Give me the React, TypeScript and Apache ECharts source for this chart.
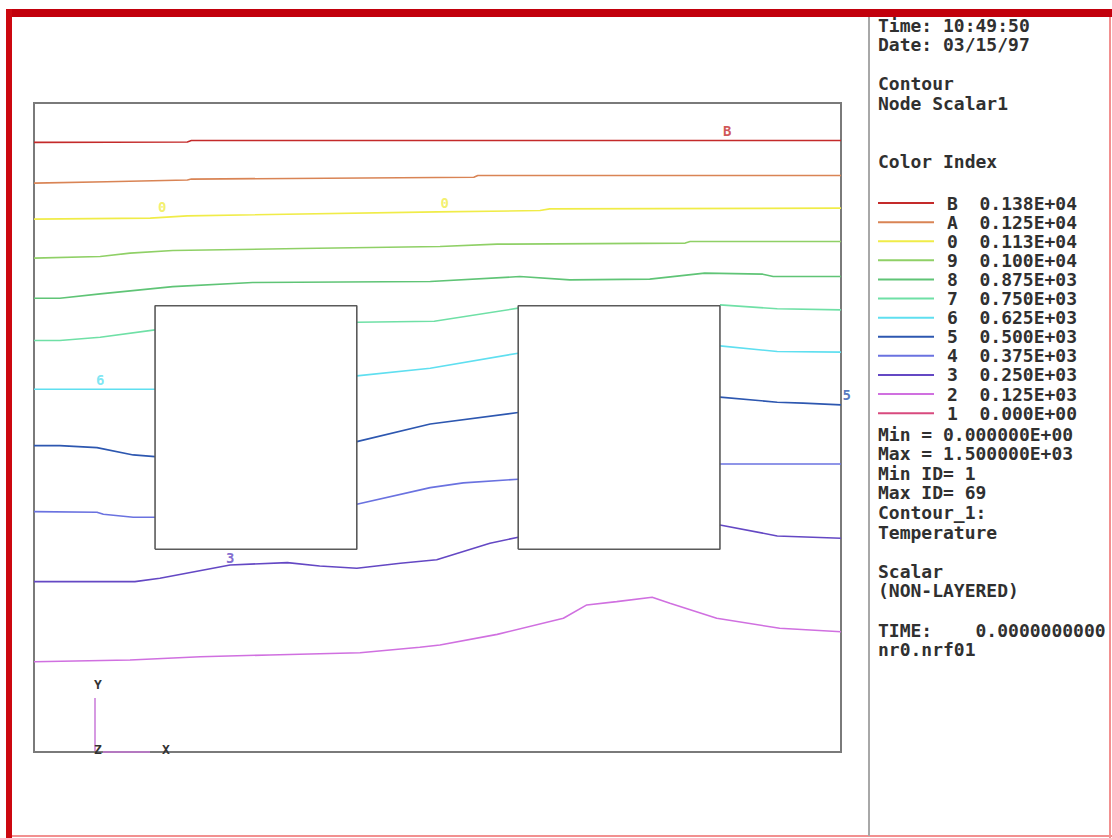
import React, { useEffect, useRef } from "react";
import * as echarts from "echarts";

// ---- Legend levels ----
const levelNames = ["B", "A", "0", "9", "8", "7", "6", "5", "4", "3", "2", "1"];
const levelValues = [
  "0.138E+04", "0.125E+04", "0.113E+04", "0.100E+04", "0.875E+03", "0.750E+03",
  "0.625E+03", "0.500E+03", "0.375E+03", "0.250E+03", "0.125E+03", "0.000E+00",
];
const levelColors = [
  "#c42a2a", "#d98455", "#f0ec48", "#8fd066", "#5fc476", "#6fe0a6",
  "#5fdff0", "#2d57b0", "#6a72e0", "#6448c4", "#d070e0", "#d84a7e",
];

// ---- Contour polylines (domain units: x 0..10, y 0..8), one list of segments per level ----
const contourB = [[[0, 7.515], [1.9, 7.52], [1.95, 7.538], [10, 7.538]]];
const contourA = [[[0, 7.012], [0.9, 7.03], [1.9, 7.05], [1.95, 7.062], [5.45, 7.085], [5.5, 7.106], [10, 7.106]]];
const contour0 = [[[0, 6.568], [1.44, 6.581], [1.9, 6.609], [5.0, 6.658], [6.27, 6.674], [6.39, 6.695], [10, 6.704]]];
const contour9 = [[[0, 6.088], [0.82, 6.107], [1.19, 6.149], [1.72, 6.181], [3.3, 6.206], [5.03, 6.231], [5.74, 6.26], [8.07, 6.273], [8.13, 6.292], [10, 6.292]]];
const contour8 = [[[0, 5.594], [0.32, 5.594], [0.82, 5.647], [1.72, 5.737], [2.71, 5.787], [4.91, 5.799], [6.02, 5.861], [6.64, 5.82], [7.63, 5.829], [8.31, 5.903], [9.03, 5.89], [9.16, 5.861], [10, 5.861]]];
const contour7 = [
  [[0, 5.072], [0.32, 5.072], [0.82, 5.113], [1.5, 5.203]],
  [[4.0, 5.298], [4.96, 5.31], [6.0, 5.471]],
  [[8.5, 5.512], [9.21, 5.463], [10, 5.45]],
];
const contour6 = [
  [[0, 4.472], [1.5, 4.472]],
  [[4.0, 4.636], [4.91, 4.731], [6.0, 4.916]],
  [[8.5, 5.006], [9.21, 4.936], [10, 4.929]],
];
const contour5 = [
  [[0, 3.777], [0.32, 3.777], [0.78, 3.752], [1.23, 3.662], [1.5, 3.641]],
  [[4.0, 3.826], [4.91, 4.044], [6.0, 4.184]],
  [[8.5, 4.374], [9.21, 4.312], [9.53, 4.3], [10, 4.279]],
];
const contour4 = [
  [[0, 2.963], [0.78, 2.956], [0.86, 2.93], [1.23, 2.894], [1.5, 2.894]],
  [[4.0, 3.054], [4.91, 3.259], [5.32, 3.317], [6.0, 3.363]],
  [[8.5, 3.551], [10, 3.551]],
];
const contour3 = [
  [[0, 2.1], [1.25, 2.1], [1.56, 2.142], [2.43, 2.306], [3.14, 2.334], [3.54, 2.293], [4.0, 2.265], [4.54, 2.327], [4.99, 2.37], [5.65, 2.573], [6.0, 2.647]],
  [[8.5, 2.799], [9.21, 2.663], [10, 2.635]],
];
const contour2 = [[[0, 1.113], [1.19, 1.134], [2.06, 1.175], [2.92, 1.196], [4.04, 1.224], [4.78, 1.291], [5.03, 1.319], [5.74, 1.45], [6.56, 1.649], [6.85, 1.813], [7.22, 1.854], [7.66, 1.908], [7.88, 1.834], [8.46, 1.649], [9.24, 1.525], [10, 1.483]]];
const contour1: number[][][] = [];

const contours = [contourB, contourA, contour0, contour9, contour8, contour7, contour6, contour5, contour4, contour3, contour2, contour1];

// ---- Contour labels in the plot (text, level index, x, y) ----
const labelTexts = ["B", "0", "0", "6", "5", "3"];
const labelLevels = [0, 2, 2, 6, 7, 9];
const labelX = [8.59, 1.59, 5.09, 0.82, 10.07, 2.43];
const labelY = [7.66, 6.72, 6.77, 4.59, 4.4, 2.39];

// ---- Geometry: domain and obstacles [x0, y0, x1, y1] ----
const domainX = [0, 10];
const domainY = [0, 8];
const obstacles = [
  [1.5, 2.5, 4.0, 5.5],
  [6.0, 2.5, 8.5, 5.5],
];

// ---- Side panel texts ----
const headerTexts = ["Time: 10:49:50", "Date: 03/15/97", "", "Contour", "Node Scalar1", "", "", "Color Index"];
const footerTexts = [
  "Min = 0.000000E+00", "Max = 1.500000E+03", "Min ID= 1", "Max ID= 69",
  "Contour_1:", "Temperature", "", "Scalar", "(NON-LAYERED)", "",
  "TIME:    0.0000000000", "nr0.nrf01",
];

const MONO = '"DejaVu Sans Mono", "Liberation Mono", monospace';

export default function App() {
  const ref = useRef<HTMLDivElement>(null);

  useEffect(() => {
    if (!ref.current) return;
    const chart = echarts.init(ref.current, null, { renderer: "svg" });

    const series: any[] = [];
    contours.forEach((segs, li) => {
      if (segs.length === 0) {
        series.push({
          type: "line", name: levelNames[li], data: [], symbol: "none",
          itemStyle: { color: levelColors[li] }, lineStyle: { color: levelColors[li], width: 1.6 },
        });
      }
      segs.forEach((seg) => {
        series.push({
          type: "line",
          name: levelNames[li],
          data: seg,
          symbol: "none",
          silent: true,
          clip: false,
          itemStyle: { color: levelColors[li] },
          lineStyle: { color: levelColors[li], width: 1.6 },
          z: 3,
        });
      });
    });

    obstacles.forEach((o) => {
      series.push({
        type: "line",
        name: "obstacle",
        data: [[o[0], o[1]], [o[0], o[3]], [o[2], o[3]], [o[2], o[1]], [o[0], o[1]]],
        symbol: "none",
        silent: true,
        lineStyle: { color: "#5a5a5a", width: 1.6 },
        z: 4,
      });
    });

    series.push({
      type: "scatter",
      name: "labels",
      symbolSize: 0,
      silent: true,
      clip: false,
      z: 5,
      data: labelTexts.map((t, i) => ({
        name: t,
        value: [labelX[i], labelY[i]],
        label: { color: levelColors[labelLevels[i]] },
      })),
      label: {
        show: true,
        position: "inside",
        formatter: (p: any) => p.name,
        fontFamily: MONO,
        fontWeight: "bold",
        fontSize: 14,
      },
    });

    const graphics: any[] = [
      // frame
      { type: "rect", shape: { x: 6, y: 9, width: 1106, height: 8 }, style: { fill: "#c2000c" }, z: 10 },
      { type: "rect", shape: { x: 6, y: 9, width: 6, height: 829 }, style: { fill: "#cc0810" }, z: 10 },
      { type: "line", shape: { x1: 6, y1: 836, x2: 1112, y2: 836 }, style: { stroke: "#f29090", lineWidth: 2 } },
      { type: "line", shape: { x1: 1110, y1: 9, x2: 1110, y2: 838 }, style: { stroke: "#f29090", lineWidth: 2 } },
      // separator
      { type: "line", shape: { x1: 869, y1: 17, x2: 869, y2: 836 }, style: { stroke: "#a8a8a8", lineWidth: 2 } },
      // axis triad
      { type: "line", shape: { x1: 95, y1: 698, x2: 95, y2: 751 }, style: { stroke: "#c878d8", lineWidth: 1.5 }, z: 6 },
      { type: "line", shape: { x1: 103, y1: 752, x2: 150, y2: 752 }, style: { stroke: "#c878d8", lineWidth: 1.5 }, z: 6 },
      { type: "text", x: 98, y: 684, style: { text: "Y", font: `bold 13px ${MONO}`, fill: "#333", align: "center", verticalAlign: "middle" }, z: 6 },
      { type: "text", x: 98, y: 749, style: { text: "Z", font: `bold 13px ${MONO}`, fill: "#333", align: "center", verticalAlign: "middle" }, z: 6 },
      { type: "text", x: 166, y: 749, style: { text: "X", font: `bold 13px ${MONO}`, fill: "#333", align: "center", verticalAlign: "middle" }, z: 6 },
    ];

    const textStyle = (t: string) => ({ text: t, font: `bold 18px ${MONO}`, fill: "#303030", align: "left", verticalAlign: "middle" });
    headerTexts.forEach((t, i) => {
      if (!t) return;
      graphics.push({ type: "text", x: 878, y: 25 + i * 19.5, style: textStyle(t), z: 6 });
    });
    footerTexts.forEach((t, i) => {
      if (!t) return;
      graphics.push({ type: "text", x: 878, y: 434 + i * 19.6, style: textStyle(t), z: 6 });
    });

    chart.setOption({
      animation: false,
      backgroundColor: "#ffffff",
      grid: {
        left: 34, top: 103, width: 807, height: 649,
        show: true, borderColor: "#7a7a7a", borderWidth: 2, backgroundColor: "transparent",
      },
      xAxis: {
        type: "value", min: domainX[0], max: domainX[1],
        axisLine: { show: false }, axisTick: { show: false }, axisLabel: { show: false }, splitLine: { show: false },
      },
      yAxis: {
        type: "value", min: domainY[0], max: domainY[1],
        axisLine: { show: false }, axisTick: { show: false }, axisLabel: { show: false }, splitLine: { show: false },
      },
      legend: {
        orient: "vertical",
        left: 878,
        top: 193.5,
        padding: 0,
        itemGap: 0,
        icon: "rect",
        itemWidth: 56,
        itemHeight: 2,
        selectedMode: false,
        data: levelNames,
        formatter: (name: string) => `${name}  ${levelValues[levelNames.indexOf(name)]}`,
        textStyle: {
          fontFamily: MONO, fontWeight: "bold", fontSize: 18, color: "#303030",
          lineHeight: 19.1, padding: [0, 0, 0, 8],
        },
      },
      graphic: graphics,
      series,
    });

    return () => chart.dispose();
  }, []);

  return (
    <div
      ref={ref}
      style={{ position: "absolute", left: 0, top: 0, width: 1112, height: 838, background: "#fff" }}
    />
  );
}
